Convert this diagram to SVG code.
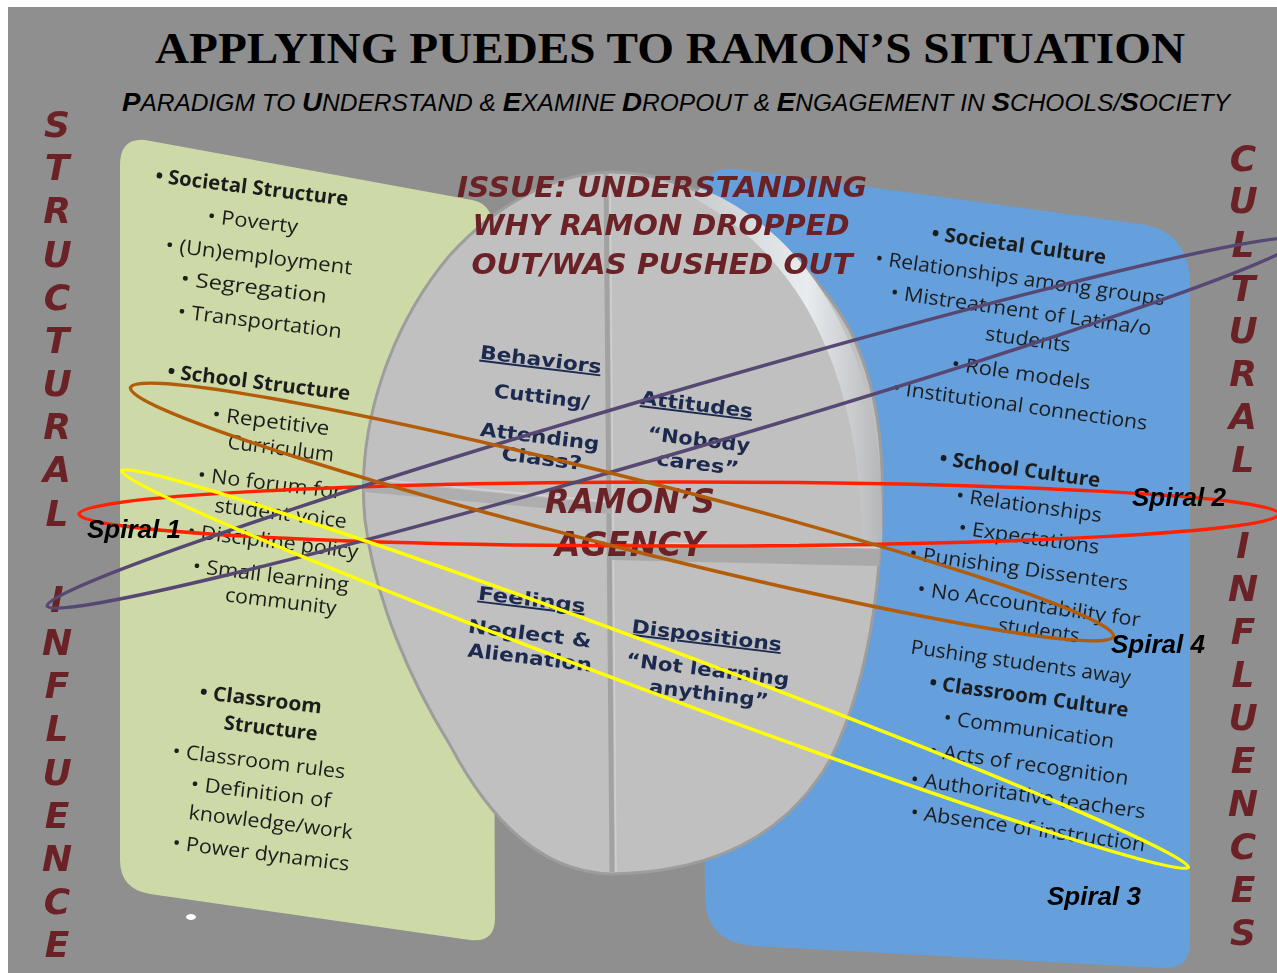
<svg xmlns="http://www.w3.org/2000/svg" width="1277" height="973" viewBox="0 0 1277 973">
  <defs>
    <style>
      .title { font-family: "Liberation Serif", serif; font-weight: bold; font-size: 45px; fill: #000; }
      .sub { font-family: "Liberation Sans", Arial, sans-serif; font-style: italic; font-size: 23px; fill: #000; }
      .cap { font-weight: 900; font-size: 26px; }
      .side { font-family: "DejaVu Sans", Verdana, sans-serif; font-weight: bold; font-style: italic; font-size: 36px; fill: #6b2226; text-anchor: middle; }
      .issue { font-family: "DejaVu Sans", Verdana, sans-serif; font-weight: bold; font-style: italic; font-size: 29px; fill: #6b2226; text-anchor: middle; }
      .agency { font-family: "DejaVu Sans", Verdana, sans-serif; font-weight: bold; font-style: italic; font-size: 33px; fill: #6b2226; text-anchor: middle; }
      .pt { font-family: "Open Sans", "Liberation Sans", sans-serif; font-size: 20px; fill: #1d1d1d; text-anchor: middle; }
      .pt.b { font-weight: bold; }
      .q { font-family: "DejaVu Sans", Verdana, sans-serif; font-weight: bold; font-size: 19px; fill: #1c2a50; text-anchor: middle; }
      .q.u { text-decoration: underline; }
      .spiral { fill: none; stroke-width: 3.5; }
      .slabel { font-family: "Liberation Sans", Arial, sans-serif; font-weight: bold; font-style: italic; font-size: 26px; fill: #000; }
    </style>
    <filter id="soft" x="-5%" y="-5%" width="110%" height="110%">
      <feGaussianBlur stdDeviation="0.6"/>
    </filter>
    <linearGradient id="rimGrad" x1="0" y1="0" x2="1" y2="0">
      <stop offset="0" stop-color="#c9cccf"/>
      <stop offset="0.6" stop-color="#e9ecef"/>
      <stop offset="1" stop-color="#b4b6b8"/>
    </linearGradient>
  </defs>

  <!-- backdrop -->
  <rect x="0" y="0" width="1277" height="973" fill="#ffffff"/>
  <rect x="8" y="7" width="1269" height="966" fill="#8f8f8f"/>

  <!-- heading -->
  <g id="heading">
    <text class="title" x="670" y="63" text-anchor="middle" textLength="1030" lengthAdjust="spacingAndGlyphs">APPLYING PUEDES TO RAMON’S SITUATION</text>
    <text class="sub" x="122" y="111" textLength="1108" lengthAdjust="spacingAndGlyphs"><tspan class="cap">P</tspan>ARADIGM TO <tspan class="cap">U</tspan>NDERSTAND &amp; <tspan class="cap">E</tspan>XAMINE <tspan class="cap">D</tspan>ROPOUT &amp; <tspan class="cap">E</tspan>NGAGEMENT IN <tspan class="cap">S</tspan>CHOOLS/<tspan class="cap">S</tspan>OCIETY</text>
  </g>

  <!-- structural panel (left) -->
  <g id="structural-panel">
    <path d="M 120,165 Q 120,138 145,140 L 472,200 Q 492,204 492,225 L 495,918 Q 495,943 470,940 L 150,894 Q 120,889 120,860 Z" fill="#cddaa8"/>
    <g filter="url(#soft)">
      <text class="pt b" x="251" y="194" transform="rotate(7 251 194)" textLength="194" lengthAdjust="spacingAndGlyphs">•  Societal Structure</text>
      <text class="pt" x="252" y="228" transform="rotate(7 252 228)" textLength="91" lengthAdjust="spacingAndGlyphs">•  Poverty</text>
      <text class="pt" x="258" y="263" transform="rotate(7 258 263)" textLength="188" lengthAdjust="spacingAndGlyphs">•  (Un)employment</text>
      <text class="pt" x="253" y="294" transform="rotate(7 253 294)" textLength="147" lengthAdjust="spacingAndGlyphs">•  Segregation</text>
      <text class="pt" x="259" y="328" transform="rotate(7 259 328)" textLength="165" lengthAdjust="spacingAndGlyphs">•  Transportation</text>
      <text class="pt b" x="258" y="389" transform="rotate(7 258 389)" textLength="184" lengthAdjust="spacingAndGlyphs">•  School Structure</text>
      <text class="pt" x="270" y="428" transform="rotate(7 270 428)" textLength="118" lengthAdjust="spacingAndGlyphs">•  Repetitive</text>
      <text class="pt" x="280" y="455" transform="rotate(7 280 455)" textLength="107" lengthAdjust="spacingAndGlyphs">Curriculum</text>
      <text class="pt" x="269" y="490" transform="rotate(7 269 490)" textLength="145" lengthAdjust="spacingAndGlyphs">•  No forum for</text>
      <text class="pt" x="280" y="520" transform="rotate(7 280 520)" textLength="133" lengthAdjust="spacingAndGlyphs">student voice</text>
      <text class="pt" x="272" y="548" transform="rotate(7 272 548)" textLength="172" lengthAdjust="spacingAndGlyphs">•  Discipline policy</text>
      <text class="pt" x="270" y="582" transform="rotate(7 270 582)" textLength="157" lengthAdjust="spacingAndGlyphs">•  Small learning</text>
      <text class="pt" x="280" y="608" transform="rotate(7 280 608)" textLength="112" lengthAdjust="spacingAndGlyphs">community</text>
      <text class="pt b" x="260" y="706" transform="rotate(7 260 706)" textLength="123" lengthAdjust="spacingAndGlyphs">•  Classroom</text>
      <text class="pt b" x="270" y="735" transform="rotate(7 270 735)" textLength="94" lengthAdjust="spacingAndGlyphs">Structure</text>
      <text class="pt" x="258" y="768" transform="rotate(7 258 768)" textLength="174" lengthAdjust="spacingAndGlyphs">•  Classroom rules</text>
      <text class="pt" x="260" y="799" transform="rotate(7 260 799)" textLength="141" lengthAdjust="spacingAndGlyphs">•  Definition of</text>
      <text class="pt" x="270" y="829" transform="rotate(7 270 829)" textLength="165" lengthAdjust="spacingAndGlyphs">knowledge/work</text>
      <text class="pt" x="260" y="860" transform="rotate(7 260 860)" textLength="178" lengthAdjust="spacingAndGlyphs">•  Power dynamics</text>
    </g>
    <ellipse cx="191" cy="917" rx="5" ry="3" fill="#ffffff"/>
  </g>

  <!-- cultural panel (right) -->
  <g id="cultural-panel">
    <path d="M 700,205 Q 700,166 735,169 L 1140,224 Q 1190,231 1190,285 L 1190,942 Q 1190,970 1162,968 L 755,946 Q 705,943 705,895 Z" fill="#65a0dd"/>
    <g filter="url(#soft)">
      <text class="pt b" x="1018" y="252" transform="rotate(8 1018 252)" textLength="176" lengthAdjust="spacingAndGlyphs">•  Societal Culture</text>
      <text class="pt" x="1019" y="285" transform="rotate(8 1019 285)" textLength="292" lengthAdjust="spacingAndGlyphs">•  Relationships among groups</text>
      <text class="pt" x="1020" y="317" transform="rotate(8 1020 317)" textLength="263" lengthAdjust="spacingAndGlyphs">•  Mistreatment of Latina/o</text>
      <text class="pt" x="1027" y="346" transform="rotate(8 1027 346)" textLength="86" lengthAdjust="spacingAndGlyphs">students</text>
      <text class="pt" x="1020" y="380" transform="rotate(8 1020 380)" textLength="140" lengthAdjust="spacingAndGlyphs">•  Role models</text>
      <text class="pt" x="1019" y="412" transform="rotate(8 1019 412)" textLength="257" lengthAdjust="spacingAndGlyphs">•  Institutional connections</text>
      <text class="pt b" x="1019" y="476" transform="rotate(8 1019 476)" textLength="162" lengthAdjust="spacingAndGlyphs">•  School Culture</text>
      <text class="pt" x="1028" y="512" transform="rotate(8 1028 512)" textLength="147" lengthAdjust="spacingAndGlyphs">•  Relationships</text>
      <text class="pt" x="1028" y="544" transform="rotate(8 1028 544)" textLength="142" lengthAdjust="spacingAndGlyphs">•  Expectations</text>
      <text class="pt" x="1018" y="575" transform="rotate(8 1018 575)" textLength="221" lengthAdjust="spacingAndGlyphs">•  Punishing Dissenters</text>
      <text class="pt" x="1028" y="611" transform="rotate(8 1028 611)" textLength="225" lengthAdjust="spacingAndGlyphs">•  No Accountability for</text>
      <text class="pt" x="1038" y="637" transform="rotate(8 1038 637)" textLength="82" lengthAdjust="spacingAndGlyphs">students</text>
      <text class="pt" x="1020" y="669" transform="rotate(8 1020 669)" textLength="222" lengthAdjust="spacingAndGlyphs">Pushing students away</text>
      <text class="pt b" x="1028" y="703" transform="rotate(8 1028 703)" textLength="201" lengthAdjust="spacingAndGlyphs">•  Classroom Culture</text>
      <text class="pt" x="1028" y="736" transform="rotate(8 1028 736)" textLength="172" lengthAdjust="spacingAndGlyphs">•  Communication</text>
      <text class="pt" x="1028" y="771" transform="rotate(8 1028 771)" textLength="201" lengthAdjust="spacingAndGlyphs">•  Acts of recognition</text>
      <text class="pt" x="1027" y="802" transform="rotate(8 1027 802)" textLength="237" lengthAdjust="spacingAndGlyphs">•  Authoritative teachers</text>
      <text class="pt" x="1027" y="835" transform="rotate(8 1027 835)" textLength="237" lengthAdjust="spacingAndGlyphs">•  Absence of instruction</text>
    </g>
  </g>

  <!-- agency disk -->
  <g id="agency-disk">
    <path d="M 612,172 C 700,172 800,240 850,330 C 875,380 884,440 882,505 C 880,600 865,690 830,760 C 790,830 720,872 612,874 C 540,872 490,820 450,745 C 410,680 375,600 365,520 C 355,420 395,320 450,255 C 500,200 560,172 612,172 Z" fill="#c0c0c0" stroke="#9d9d9d" stroke-width="3"/>
    <!-- raised rim of the upper right quarter -->
    <path d="M 700,188 C 785,222 850,305 873,420 C 881,460 883,500 882,546 L 862,548 C 862,470 850,400 822,338 C 792,272 748,228 694,198 Z" fill="url(#rimGrad)"/>
    <!-- quarter dividers -->
    <line x1="606" y1="174" x2="612" y2="872" stroke="#a2a2a2" stroke-width="5"/>
    <line x1="610" y1="174" x2="616" y2="872" stroke="#cfcfcf" stroke-width="1.5"/>
    <path d="M 362,480 L 612,504 L 612,514 L 364,492 Z" fill="#adadad"/>
    <path d="M 362,478 L 612,502" stroke="#d4d4d4" stroke-width="1.5" fill="none"/>
    <path d="M 612,542 L 880,548 L 879,566 L 612,560 Z" fill="#a9a9a9"/>
    <path d="M 612,542 L 880,548" stroke="#d2d2d2" stroke-width="1.5" fill="none"/>
  </g>

  <!-- quadrant labels -->
  <g id="quadrant-behaviors" filter="url(#soft)">
    <text class="q u" x="540" y="366" transform="rotate(7 540 366)" textLength="122" lengthAdjust="spacingAndGlyphs">Behaviors</text>
    <text class="q" x="541" y="403" transform="rotate(7 541 403)" textLength="96" lengthAdjust="spacingAndGlyphs">Cutting/</text>
    <text class="q" x="539" y="443" transform="rotate(7 539 443)" textLength="120" lengthAdjust="spacingAndGlyphs">Attending</text>
    <text class="q" x="541" y="465" transform="rotate(7 541 465)" textLength="81" lengthAdjust="spacingAndGlyphs">Class?</text>
  </g>
  <g id="quadrant-attitudes" filter="url(#soft)">
    <text class="q u" x="696" y="411" transform="rotate(7 696 411)" textLength="113" lengthAdjust="spacingAndGlyphs">Attitudes</text>
    <text class="q" x="698" y="446" transform="rotate(7 698 446)" textLength="103" lengthAdjust="spacingAndGlyphs">“Nobody</text>
    <text class="q" x="697" y="470" transform="rotate(7 697 470)" textLength="83" lengthAdjust="spacingAndGlyphs">cares”</text>
  </g>
  <g id="quadrant-feelings" filter="url(#soft)">
    <text class="q u" x="531" y="606" transform="rotate(7 531 606)" textLength="108" lengthAdjust="spacingAndGlyphs">Feelings</text>
    <text class="q" x="529" y="640" transform="rotate(7 529 640)" textLength="124" lengthAdjust="spacingAndGlyphs">Neglect &amp;</text>
    <text class="q" x="529" y="664" transform="rotate(7 529 664)" textLength="125" lengthAdjust="spacingAndGlyphs">Alienation</text>
  </g>
  <g id="quadrant-dispositions" filter="url(#soft)">
    <text class="q u" x="706" y="642" transform="rotate(7 706 642)" textLength="151" lengthAdjust="spacingAndGlyphs">Dispositions</text>
    <text class="q" x="707" y="676" transform="rotate(7 707 676)" textLength="164" lengthAdjust="spacingAndGlyphs">“Not learning</text>
    <text class="q" x="708" y="700" transform="rotate(7 708 700)" textLength="120" lengthAdjust="spacingAndGlyphs">anything”</text>
  </g>

  <!-- centre label -->
  <g id="agency-label">
    <text class="agency" x="630" y="513" textLength="170" lengthAdjust="spacingAndGlyphs">RAMON’S</text>
    <text class="agency" x="630" y="556" textLength="150" lengthAdjust="spacingAndGlyphs">AGENCY</text>
  </g>

  <!-- issue statement -->
  <g id="issue">
    <text class="issue" x="662" y="197" textLength="410" lengthAdjust="spacingAndGlyphs">ISSUE: UNDERSTANDING</text>
    <text class="issue" x="661" y="235" textLength="377" lengthAdjust="spacingAndGlyphs">WHY RAMON DROPPED</text>
    <text class="issue" x="662" y="274" textLength="381" lengthAdjust="spacingAndGlyphs">OUT/WAS PUSHED OUT</text>
  </g>

  <!-- vertical side headings -->
  <g id="structural-influences">
    <text class="side">
      <tspan x="57" y="137">S</tspan><tspan x="57" y="180">T</tspan><tspan x="57" y="223">R</tspan><tspan x="57" y="267">U</tspan><tspan x="57" y="310">C</tspan><tspan x="57" y="353">T</tspan><tspan x="57" y="396">U</tspan><tspan x="57" y="439">R</tspan><tspan x="57" y="482">A</tspan><tspan x="57" y="526">L</tspan><tspan x="57" y="612">I</tspan><tspan x="57" y="655">N</tspan><tspan x="57" y="698">F</tspan><tspan x="57" y="741">L</tspan><tspan x="57" y="785">U</tspan><tspan x="57" y="828">E</tspan><tspan x="57" y="871">N</tspan><tspan x="57" y="914">C</tspan><tspan x="57" y="957">E</tspan><tspan x="57" y="1000">S</tspan>
    </text>
  </g>
  <g id="cultural-influences">
    <text class="side">
      <tspan x="1243" y="171">C</tspan><tspan x="1243" y="213">U</tspan><tspan x="1243" y="257">L</tspan><tspan x="1243" y="301">T</tspan><tspan x="1243" y="343">U</tspan><tspan x="1243" y="386">R</tspan><tspan x="1243" y="429">A</tspan><tspan x="1243" y="472">L</tspan><tspan x="1243" y="558">I</tspan><tspan x="1243" y="601">N</tspan><tspan x="1243" y="644">F</tspan><tspan x="1243" y="687">L</tspan><tspan x="1243" y="730">U</tspan><tspan x="1243" y="773">E</tspan><tspan x="1243" y="816">N</tspan><tspan x="1243" y="859">C</tspan><tspan x="1243" y="902">E</tspan><tspan x="1243" y="945">S</tspan>
    </text>
  </g>

  <!-- spirals -->
  <g id="spirals">
    <ellipse class="spiral" cx="679" cy="514" rx="600" ry="32" stroke="#ff2200"/>
    <ellipse class="spiral" cx="673" cy="423" rx="652" ry="30" transform="rotate(-16.3 673 423)" stroke="#574873"/>
    <ellipse class="spiral" cx="622" cy="512" rx="507" ry="35" transform="rotate(14.2 622 512)" stroke="#b35c0a"/>
    <ellipse class="spiral" cx="655" cy="669" rx="569" ry="23" transform="rotate(20.4 655 669)" stroke="#ffff00"/>
  </g>

  <g id="spiral-labels">
    <text class="slabel" x="87" y="538">Spiral 1</text>
    <text class="slabel" x="1132" y="506">Spiral 2</text>
    <text class="slabel" x="1111" y="653">Spiral 4</text>
    <text class="slabel" x="1047" y="905">Spiral 3</text>
  </g>
</svg>
